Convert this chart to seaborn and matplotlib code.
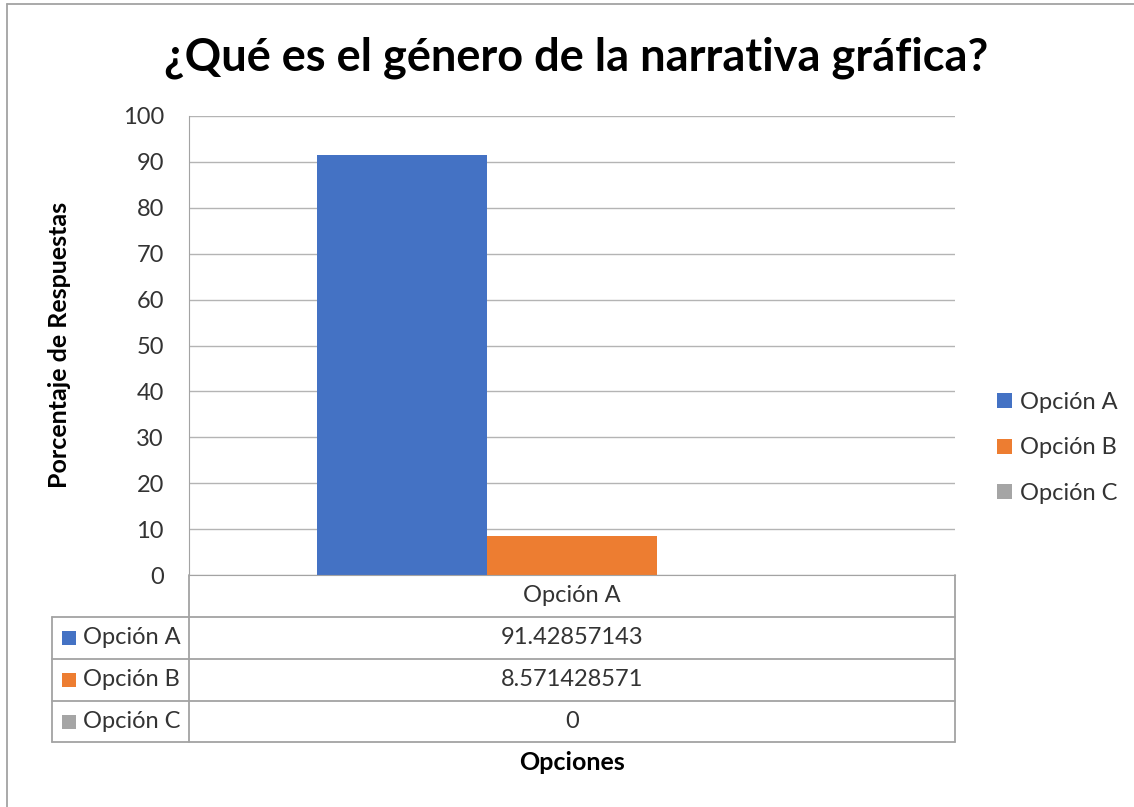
import numpy as np
import pandas as pd
import matplotlib.pyplot as plt
import seaborn as sns
from matplotlib.patches import Rectangle
from matplotlib.lines import Line2D

# data
categoria = ['Opción A']
series = ['Opción A', 'Opción B', 'Opción C']
valores = [91.42857143, 8.571428571, 0]
valores_txt = ['91.42857143', '8.571428571', '0']
colores = ['#4472C4', '#ED7D31', '#A5A5A5']

df = pd.DataFrame({'categoria': categoria * len(series), 'serie': series, 'valor': valores})

sns.set_style('white')
plt.rcParams['font.family'] = ['Lato', 'DejaVu Sans']
txt = '#333333'
grid_c = '#B4B4B4'
line_c = '#A3A3A3'
fs = 17

fig = plt.figure(figsize=(11.34, 8.07), dpi=100)
W, H = 1134, 807
ax_l, ax_r, ax_t, ax_b = 189, 955, 116, 575
ax = fig.add_axes([ax_l / W, 1 - ax_b / H, (ax_r - ax_l) / W, (ax_b - ax_t) / H])

sns.barplot(data=df, x='categoria', y='valor', hue='serie', hue_order=series,
            palette=colores, saturation=1, width=0.666, linewidth=0, ax=ax)

ax.set_ylim(0, 100)
ax.set_yticks(range(0, 101, 10))
ax.set_xlim(-0.5, 0.5)
ax.yaxis.grid(True, color=grid_c, linewidth=1)
ax.set_axisbelow(True)
for s in ['top', 'right']:
    ax.spines[s].set_visible(False)
ax.spines['left'].set_color(line_c)
ax.spines['bottom'].set_color(line_c)
ax.tick_params(axis='y', length=0, pad=18, labelsize=fs, labelcolor=txt)
ax.set_xticks([])
ax.set_xlabel('')
ax.set_ylabel('')

# title and axis titles
fig.text(576 / W, 1 - 58 / H, '¿Qué es el género de la narrativa gráfica?',
         ha='center', va='center', fontsize=32.5, fontweight='bold', color='black')
fig.text(60 / W, 1 - 345 / H, 'Porcentaje de Respuestas', rotation=90,
         ha='center', va='center', fontsize=18, fontweight='bold', color='black')
fig.text(572 / W, 1 - 763 / H, 'Opciones', ha='center', va='center',
         fontsize=18, fontweight='bold', color='black')

# legend
sns.move_legend(ax, 'center left', bbox_to_anchor=(1.043, 0.277), frameon=False,
                title=None, fontsize=fs, handlelength=0.6, handleheight=0.6,
                handletextpad=0.35, labelspacing=1.05, borderaxespad=0)
for t in ax.get_legend().get_texts():
    t.set_color(txt)

# data table under the axes
aw, ah = ax_r - ax_l, ax_b - ax_t
def ax_x(px):
    return (px - ax_l) / aw
def ax_y(py):
    return (ax_b - py) / ah

rows_px = [575, 617, 659, 701, 742]
tab_left = 52
kw = dict(color=line_c, linewidth=1.3, transform=ax.transAxes, clip_on=False)
for py in rows_px[1:]:
    ax.plot([ax_x(tab_left), 1], [ax_y(py)] * 2, **kw)
ax.plot([0, 0], [0, ax_y(742)], **kw)
ax.plot([1, 1], [0, ax_y(742)], **kw)
ax.plot([ax_x(tab_left)] * 2, [ax_y(617), ax_y(742)], **kw)

ax.text(0.5, ax_y(596), categoria[0], transform=ax.transAxes, ha='center',
        va='center', fontsize=fs, color=txt)
for i, (s, v, c) in enumerate(zip(series, valores_txt, colores)):
    yc = ax_y((rows_px[i + 1] + rows_px[i + 2]) / 2)
    ax.text(0.5, yc, v, transform=ax.transAxes, ha='center', va='center',
            fontsize=fs, color=txt)
    ax.add_patch(Rectangle((ax_x(62), yc - 7 / ah), 14 / aw, 14 / ah,
                           facecolor=c, edgecolor='none',
                           transform=ax.transAxes, clip_on=False))
    ax.text(ax_x(83), yc, s, transform=ax.transAxes, ha='left', va='center',
            fontsize=fs, color=txt)

# chart border
fig.add_artist(Line2D([7 / W, 7 / W], [0, 1 - 4 / H], color=line_c, linewidth=1.3))
fig.add_artist(Line2D([7 / W, 1], [1 - 4 / H, 1 - 4 / H], color=line_c, linewidth=1.3))

fig.savefig('out.png', dpi=100)
